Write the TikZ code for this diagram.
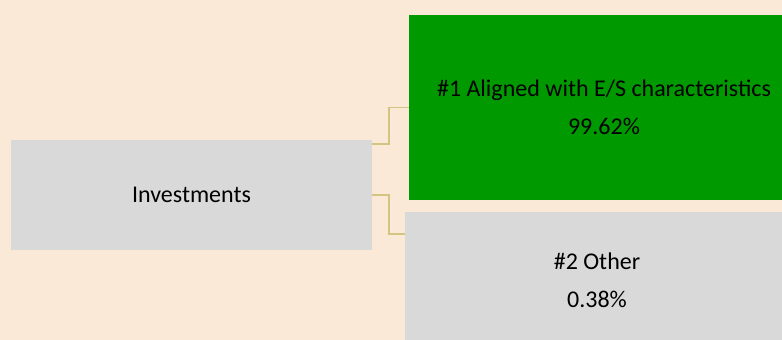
\documentclass[tikz,border=0pt]{standalone}
\usepackage{fontspec}
\setmainfont{Carlito}
\definecolor{bgc}{RGB}{251,233,216}
\definecolor{boxgray}{RGB}{217,217,217}
\definecolor{boxgreen}{RGB}{0,153,0}
\definecolor{connc}{RGB}{212,196,130}
\begin{document}
\begin{tikzpicture}[x=1pt,y=-1pt,
  box/.style={rectangle,inner sep=0pt,align=center,text=black,
    font=\fontsize{24}{38.4}\selectfont},
  conn/.style={draw=connc,line width=1.6pt}]
\useasboundingbox (0,0) rectangle (782,340);
\fill[bgc] (0,0) rectangle (782,340);
\clip (0,0) rectangle (782,340);
\node[box,fill=boxgray,minimum width=361pt,minimum height=110pt] (inv) at (191.5,195) {Investments};
\node[box,fill=boxgreen,minimum width=390pt,minimum height=185pt] (green) at (604,107) {\#1 Aligned with E/S characteristics\\99.62\%};
\node[box,fill=boxgray,minimum width=384pt,minimum height=136pt] (other) at (597,280) {\#2 Other\\0.38\%};
\draw[conn] ([yshift=-4pt]inv.north east) -- ++(17,0) |- ([yshift=-0.5pt]green.west);
\draw[conn] (inv.east) -- ++(17,0) |- ([yshift=-22pt]other.north west);
\end{tikzpicture}
\end{document}
